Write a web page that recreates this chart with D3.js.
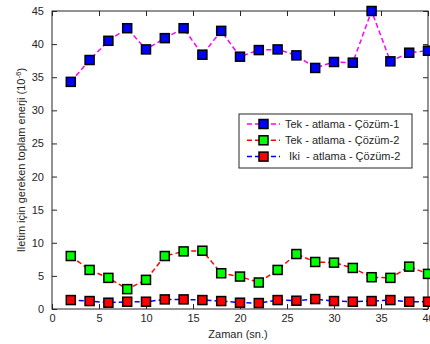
<!DOCTYPE html>
<html>
<head>
<meta charset="utf-8">
<script src="https://d3js.org/d3.v7.min.js"></script>
<style>
body { margin: 0; background: #fff; }
svg text { font-family: "Liberation Sans", Arial, sans-serif; fill: #262626; }
</style>
</head>
<body>
<div id="chart"></div>
<script>
// Data
let zaman = [2, 4, 6, 8, 10, 12, 14, 16, 18, 20, 22, 24, 26, 28, 30, 32, 34, 36, 38, 40];
let tekCozum1 = [34.3, 37.6, 40.5, 42.4, 39.2, 40.9, 42.4, 38.4, 42.0, 38.1, 39.1, 39.2, 38.3, 36.4, 37.3, 37.2, 45.0, 37.4, 38.7, 39.0];
let tekCozum2 = [8.0, 5.9, 4.7, 3.0, 4.4, 8.0, 8.7, 8.8, 5.4, 4.9, 4.0, 5.9, 8.3, 7.1, 7.0, 6.2, 4.8, 4.7, 6.4, 5.3];
let ikiCozum2 = [1.35, 1.2, 0.95, 1.1, 1.1, 1.45, 1.45, 1.35, 1.2, 0.95, 0.9, 1.35, 1.25, 1.5, 1.2, 1.1, 1.2, 1.35, 1.1, 1.1];
let xTicks = [0, 5, 10, 15, 20, 25, 30, 35, 40];
let yTicks = [0, 5, 10, 15, 20, 25, 30, 35, 40, 45];

let series = [
    {name: "Tek - atlama - Çözüm-1", values: tekCozum1, line: "#ff00ff", fill: "#0000ff"},
    {name: "Tek - atlama - Çözüm-2", values: tekCozum2, line: "#ff0000", fill: "#00ff00"},
    {name: "Iki  - atlama - Çözüm-2", values: ikiCozum2, line: "#0000ff", fill: "#ff0000"}
];

let W = 430, H = 344;
let margin = {top: 11, right: 2, bottom: 35, left: 52},
    width = W - margin.left - margin.right,
    height = H - margin.top - margin.bottom;

let x = d3.scaleLinear().domain([0, 40]).range([0, width]);
let y = d3.scaleLinear().domain([0, 45]).range([height, 0]);

let svgRoot = d3.select("#chart").append("svg")
    .attr("width", W)
    .attr("height", H);

let svg = svgRoot.append("g")
    .attr("transform", "translate(" + margin.left + "," + margin.top + ")");

// Axes (MATLAB style box with inward ticks)
let axisStyle = function(g) {
    g.select(".domain").remove();
    g.selectAll(".tick line").attr("stroke", "#262626");
    g.selectAll(".tick text").style("font-size", "11px");
};

svg.append("g")
    .attr("transform", "translate(0," + height + ")")
    .call(d3.axisBottom(x).tickValues(xTicks).tickSizeInner(-5).tickPadding(5))
    .call(axisStyle);
svg.append("g")
    .call(d3.axisTop(x).tickValues(xTicks).tickSizeInner(-5).tickFormat(""))
    .call(axisStyle);
svg.append("g")
    .call(d3.axisLeft(y).tickValues(yTicks).tickSizeInner(-5).tickPadding(8))
    .call(axisStyle);
svg.append("g")
    .attr("transform", "translate(" + width + ",0)")
    .call(d3.axisRight(y).tickValues(yTicks).tickSizeInner(-5).tickFormat(""))
    .call(axisStyle);

svg.append("rect")
    .attr("width", width)
    .attr("height", height)
    .attr("fill", "none")
    .attr("stroke", "#262626")
    .attr("stroke-width", 1);

// Lines and markers
let line = d3.line()
    .x(function(d) { return x(d[0]); })
    .y(function(d) { return y(d[1]); });

series.forEach(function(s) {
    let pts = zaman.map(function(t, i) { return [t, s.values[i]]; });
    svg.append("path")
        .datum(pts)
        .attr("fill", "none")
        .attr("stroke", s.line)
        .attr("stroke-width", 1.5)
        .attr("stroke-dasharray", "5,3")
        .attr("d", line);
    svg.selectAll(null)
        .data(pts)
        .enter().append("rect")
        .attr("x", function(d) { return x(d[0]) - 4.5; })
        .attr("y", function(d) { return y(d[1]) - 4.5; })
        .attr("width", 9)
        .attr("height", 9)
        .attr("fill", s.fill)
        .attr("stroke", "#000")
        .attr("stroke-width", 1.5);
});

// Legend
let legend = svgRoot.append("g").attr("transform", "translate(239,114)");
legend.append("rect")
    .attr("width", 173)
    .attr("height", 54)
    .attr("fill", "#fff")
    .attr("stroke", "#262626")
    .attr("stroke-width", 1);
series.forEach(function(s, i) {
    let ly = 10 + i * 16.3;
    legend.append("line")
        .attr("x1", 8).attr("x2", 41)
        .attr("y1", ly).attr("y2", ly)
        .attr("stroke", s.line)
        .attr("stroke-width", 1.5)
        .attr("stroke-dasharray", "5,3");
    legend.append("rect")
        .attr("x", 24.5 - 4.5).attr("y", ly - 4.5)
        .attr("width", 9).attr("height", 9)
        .attr("fill", s.fill)
        .attr("stroke", "#000")
        .attr("stroke-width", 1.5);
    legend.append("text")
        .attr("x", i === 2 ? 50 : 46)
        .attr("y", ly)
        .attr("dy", "0.35em")
        .style("font-size", "11px")
        .style("white-space", "pre")
        .attr("xml:space", "preserve")
        .text(s.name);
});

// Axis titles
svgRoot.append("text")
    .attr("x", margin.left + width / 2 - 2)
    .attr("y", 338)
    .attr("text-anchor", "middle")
    .style("font-size", "11px")
    .text("Zaman (sn.)");

let yl = svgRoot.append("text")
    .attr("transform", "translate(25," + (margin.top + height / 2) + ") rotate(-90)")
    .attr("text-anchor", "middle")
    .style("font-size", "11px");
yl.append("tspan").text("Iletim için gereken toplam enerji (10");
yl.append("tspan").attr("dy", -4).style("font-size", "8px").text("-6");
yl.append("tspan").attr("dy", 4).text(")");
</script>
</body>
</html>
